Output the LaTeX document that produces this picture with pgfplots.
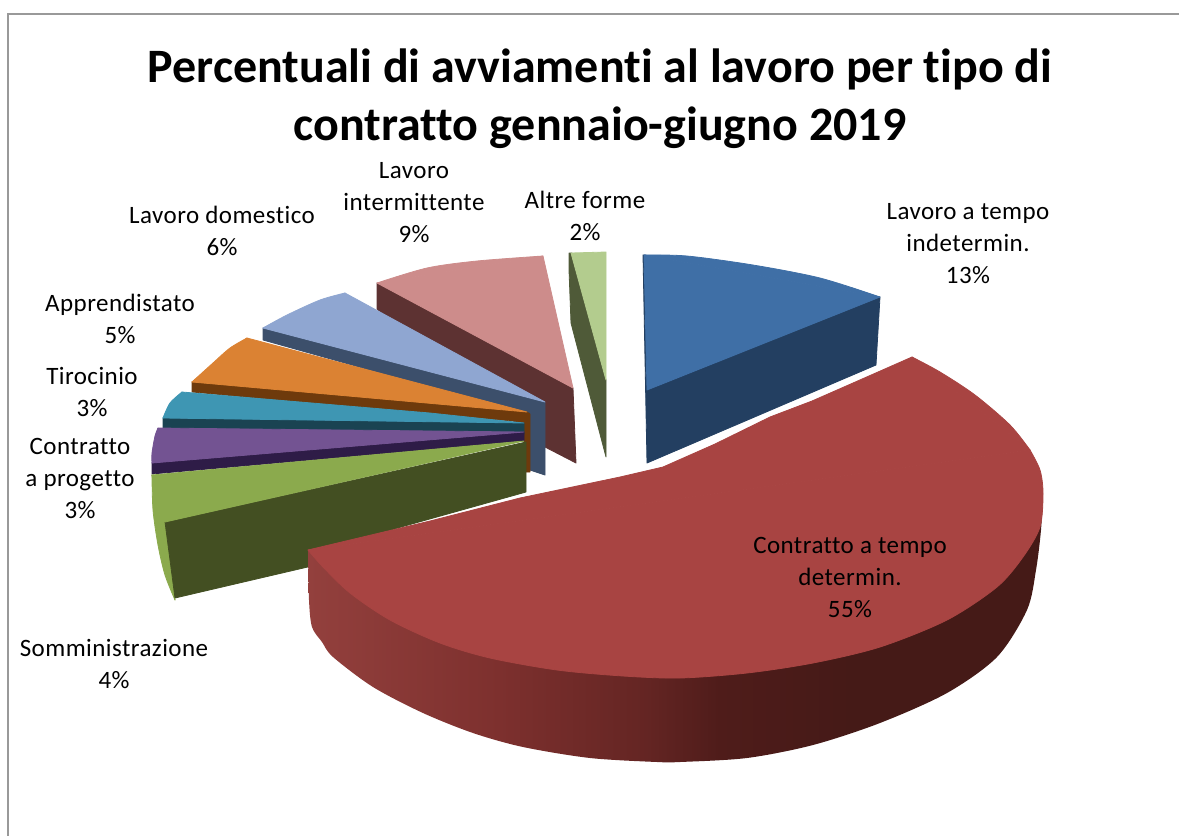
\documentclass[border=0pt]{standalone}
\usepackage{pgfplots}
\pgfplotsset{compat=1.18}
\usepackage{fontspec}
\setmainfont{Carlito}[Ligatures=NoCommon]
\newfontfamily\labfont{Carlito}[Ligatures=NoCommon,LetterSpace=1.8]
\definecolor{rt}{HTML}{A84442}
\definecolor{r1}{HTML}{93403D}
\definecolor{r2}{HTML}{7D302E}
\definecolor{r3}{HTML}{642523}
\definecolor{r4}{HTML}{4F1C1A}
\definecolor{r5}{HTML}{451A17}
\pgfdeclarehorizontalshading{redside}{100bp}{color(0bp)=(r1); color(25bp)=(r1); color(38bp)=(r2); color(48bp)=(r3); color(53bp)=(r4); color(62bp)=(r5); color(100bp)=(r5)}
\definecolor{altT}{HTML}{B3CC8E}
\definecolor{altD}{HTML}{4F5A38}
\definecolor{pinkT}{HTML}{CD8C8B}
\definecolor{pinkD}{HTML}{5D3232}
\definecolor{lbT}{HTML}{8FA6D1}
\definecolor{lbD}{HTML}{3C4F6B}
\definecolor{orT}{HTML}{DB8233}
\definecolor{orD}{HTML}{6E3A0C}
\definecolor{teT}{HTML}{3E96B3}
\definecolor{teD}{HTML}{1A4352}
\definecolor{puT}{HTML}{735392}
\definecolor{puD}{HTML}{2E1C47}
\definecolor{grT}{HTML}{8BAA4D}
\definecolor{grD}{HTML}{434F22}
\definecolor{blT}{HTML}{3F6FA6}
\definecolor{blD}{HTML}{233F61}
\begin{document}
\begin{tikzpicture}
\path[use as bounding box] (0,0) rectangle (589.5pt,418pt);
\begin{axis}[at={(0,0)},anchor=south west,scale only axis,width=589.5pt,height=418pt,
 xmin=0,xmax=1179,ymin=0,ymax=836,y dir=reverse,hide axis,no markers,clip=true]
\pgfplotsset{
 poly/.style={draw=#1,line width=0.4pt,fill=#1,line join=round},
 arc/.style={draw=#1,line width=0.4pt,fill=#1,smooth,line join=round}}
% frame
\addplot[draw=black!40,line width=1pt] coordinates {(8,836) (8,14) (1179,14)};
% Altre forme
\addplot[poly=altD] coordinates {(569,253) (572,253) (606,380) (606,457) (571,323) (569,270)} -- cycle;
\addplot[poly=altT] coordinates {(571,253) (606,252) (606,380)} -- cycle;
% Lavoro intermittente
\addplot[poly=pinkD] coordinates {(377,283) (573,388) (576,463) (545,447) (377,309)} -- cycle;
\addplot[poly=pinkT] coordinates {(377,283) (543,256) (573,388)} -- cycle;
\addplot[arc=pinkT] coordinates {(377,283) (427,268) (477,261) (543,256)} -- cycle;
% Lavoro domestico
\addplot[poly=lbD] coordinates {(263,328) (545,402) (545,475) (530,470) (530,415) (263,340)} -- cycle;
\addplot[poly=lbT] coordinates {(263,328) (345,293) (545,402)} -- cycle;
\addplot[arc=lbT] coordinates {(263,328) (287,315) (320,300) (345,293)} -- cycle;
% Apprendistato
\addplot[poly=orD] coordinates {(192,382) (527,412) (530,414) (530,472) (524,472) (524,422) (430,414) (192,392)} -- cycle;
\addplot[poly=orT] coordinates {(192,382) (247,338) (527,412)} -- cycle;
\addplot[arc=orT] coordinates {(192,382) (213,363) (230,348) (247,338)} -- cycle;
% Tirocinio
\addplot[poly=teD] coordinates {(163,418) (524,423) (524,434) (163,429)} -- cycle;
\addplot[poly=teT] coordinates {(163,418) (182,392) (430,413) (524,423)} -- cycle;
\addplot[arc=teT] coordinates {(163,418) (170,403) (182,392)} -- cycle;
% Contratto a progetto
\addplot[poly=puD] coordinates {(152,463) (524,432) (524,441) (152,474)} -- cycle;
\addplot[poly=puT] coordinates {(152,463) (158,428) (524,432)} -- cycle;
\addplot[arc=puT] coordinates {(152,463) (152,453) (155,436) (158,428)} -- cycle;
% Somministrazione
\addplot[arc=grT] coordinates {(152,475) (153,510) (158,545) (165,575) (175,600)} -- cycle;
\addplot[poly=grT] coordinates {(152,475) (175,600) (165,522)} -- cycle;
\addplot[poly=grD] coordinates {(165,522) (526,442) (526,492) (312,552) (312,566) (175,598)} -- cycle;
\addplot[poly=grT] coordinates {(152,475) (524,441) (165,522)} -- cycle;
\addplot[arc=grT] coordinates {(152,475) (156,500) (165,522)} -- cycle;
% Lavoro a tempo indetermin.
\addplot[poly=blD] coordinates {(880,297) (876,365) (647,463) (643,255) (646,255) (647,390)} -- cycle;
\addplot[poly=blT] coordinates {(644,255) (880,297) (647,390)} -- cycle;
\addplot[arc=blT] coordinates {(644,255) (687,256) (753,265) (820,278) (880,297)} -- cycle;
% Contratto a tempo determin.
\addplot[draw=none,shade,shading=redside,smooth] coordinates {(308,550) (309,600) (312,627) (322,642) (333,657) (373,687) (423,713) (473,733) (523,747) (590,758) (657,762) (680,762) (747,758) (813,745) (880,723) (947,693) (997,657) (1027,610) (1036,570) (1041,530) (1043,493)};
\addplot[arc=rt] coordinates {(308,550) (323,567) (350,593) (390,620) (440,643) (490,658) (557,670) (623,676) (680,678) (747,673) (813,663) (880,647) (947,620) (997,587) (1023,557) (1040,527) (1043,493) (1040,470) (1030,450)} -- cycle;
\addplot[arc=rt] coordinates {(1030,450) (1010,425) (975,395) (940,372) (912,357)} -- cycle;
\addplot[poly=rt] coordinates {(308,550) (430,521) (520,498) (620,477) (663,467) (715,444) (770,417) (812,401) (853,383) (912,357) (1030,450)} -- cycle;
\node[align=center,font=\fontsize{24}{29}\selectfont\bfseries] at (axis cs:600,99) {Percentuali di avviamenti al lavoro per tipo di\\contratto gennaio-giugno 2019};
\tikzset{lab/.style={align=center,font=\labfont\fontsize{12.5}{16}\selectfont,inner sep=0pt}}
\node[lab] at (axis cs:968,244) {Lavoro a tempo\\indetermin.\\13\%};
\node[lab] at (axis cs:585,216) {Altre forme\\2\%};
\node[lab] at (axis cs:414,203) {Lavoro\\intermittente\\9\%};
\node[lab] at (axis cs:222,231) {Lavoro domestico\\6\%};
\node[lab] at (axis cs:120,319) {Apprendistato\\5\%};
\node[lab] at (axis cs:92,392) {Tirocinio\\3\%};
\node[lab] at (axis cs:80,478) {Contratto\\a progetto\\3\%};
\node[lab] at (axis cs:114,664) {Somministrazione\\4\%};
\node[lab] at (axis cs:850,577) {Contratto a tempo\\determin.\\55\%};
\end{axis}
\end{tikzpicture}
\end{document}
